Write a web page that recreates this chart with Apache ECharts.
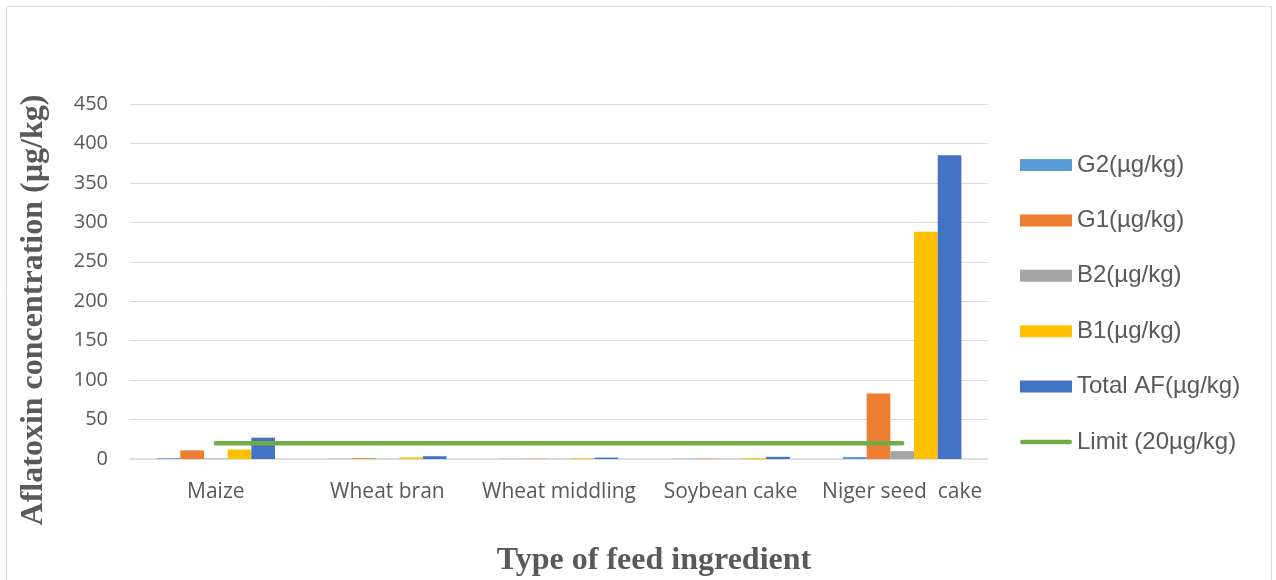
<!DOCTYPE html>
<html>
<head>
<meta charset="utf-8">
<script src="https://cdn.jsdelivr.net/npm/echarts@6/dist/echarts.min.js"></script>
<style>
  html, body { margin: 0; padding: 0; background: #ffffff; }
  #chart { width: 1276px; height: 580px; }
</style>
</head>
<body>
<div id="chart"></div>
<script>
// Feed ingredients on the category axis
var categories = ['Maize', 'Wheat bran', 'Wheat middling', 'Soybean cake', 'Niger seed  cake'];

// Aflatoxin concentrations per ingredient (µg/kg)
var g2 = [1, 0.3, 0.2, 0.3, 2.5];
var g1 = [11, 1, 0.4, 0.6, 83];
var b2 = [0.5, 0.2, 0.2, 0.2, 10];
var b1 = [12, 2, 1, 1.2, 288];
var totalAF = [27, 3.5, 1.8, 2.8, 385];

// Regulatory limit drawn across all ingredients
var limit = [20, 20, 20, 20, 20];

// Value axis ticks
var yTicks = { min: 0, max: 450, interval: 50 };

var seriesNames = ['G2(µg/kg)', 'G1(µg/kg)', 'B2(µg/kg)', 'B1(µg/kg)', 'Total AF(µg/kg)', 'Limit (20µg/kg)'];
var colors = ['#5b9bd5', '#ed7d31', '#a5a5a5', '#ffc000', '#4472c4', '#70ad47'];

var labelColor = '#595959';
var gridColor = '#d9d9d9';

function barSeries(i, data) {
  return {
    name: seriesNames[i],
    type: 'bar',
    data: data,
    barGap: '0%',
    barCategoryGap: '31%',
    itemStyle: { color: colors[i] },
    emphasis: { disabled: true }
  };
}

var chart = echarts.init(document.getElementById('chart'), null, { renderer: 'canvas' });

chart.setOption({
  animation: false,
  backgroundColor: '#ffffff',
  grid: { left: 130, right: 288, top: 104, bottom: 121, containLabel: false },
  legend: {
    orient: 'vertical',
    left: 1015,
    top: 148,
    itemWidth: 52,
    itemHeight: 12,
    itemGap: 31.4,
    textStyle: { color: labelColor, fontFamily: 'Liberation Sans', fontSize: 24, lineHeight: 24 },
    data: seriesNames.map(function (n, i) {
      return i === 5 ? { name: n, icon: 'path://M2,0 L54,0 A2.5,2.5 0 0 1 54,5 L2,5 A2.5,2.5 0 0 1 2,0 Z' } : { name: n, icon: 'rect' };
    })
  },
  xAxis: {
    type: 'category',
    data: categories,
    axisTick: { show: false },
    axisLine: { lineStyle: { color: gridColor, width: 1.5 } },
    axisLabel: { color: labelColor, fontFamily: 'Open Sans', fontSize: 21, margin: 23, interval: 0 }
  },
  yAxis: {
    type: 'value',
    min: yTicks.min,
    max: yTicks.max,
    interval: yTicks.interval,
    axisLine: { show: false },
    axisTick: { show: false },
    splitLine: { lineStyle: { color: gridColor, width: 1 } },
    axisLabel: { color: labelColor, fontFamily: 'Open Sans', fontSize: 20, margin: 22 }
  },
  graphic: [
    {
      type: 'rect',
      shape: { x: 6.5, y: 6.5, width: 1265, height: 620 },
      style: { fill: 'none', stroke: '#d9d9d9', lineWidth: 1 },
      silent: true
    },
    {
      type: 'text',
      x: 34,
      y: 310,
      rotation: Math.PI / 2,
      style: {
        text: 'Aflatoxin concentration (µg/kg)',
        fill: labelColor,
        font: 'bold 32px "Liberation Serif"',
        textAlign: 'center',
        textVerticalAlign: 'middle'
      },
      silent: true
    },
    {
      type: 'text',
      x: 654,
      y: 561,
      style: {
        text: 'Type of feed ingredient',
        fill: labelColor,
        font: 'bold 32px "Liberation Serif"',
        textAlign: 'center',
        textVerticalAlign: 'middle'
      },
      silent: true
    }
  ],
  series: [
    barSeries(0, g2),
    barSeries(1, g1),
    barSeries(2, b2),
    barSeries(3, b1),
    barSeries(4, totalAF),
    {
      name: seriesNames[5],
      type: 'line',
      data: limit,
      symbol: 'none',
      lineStyle: { color: colors[5], width: 4.5, cap: 'round' },
      itemStyle: { color: colors[5] },
      emphasis: { disabled: true },
      z: 5
    }
  ]
});
</script>
</body>
</html>
